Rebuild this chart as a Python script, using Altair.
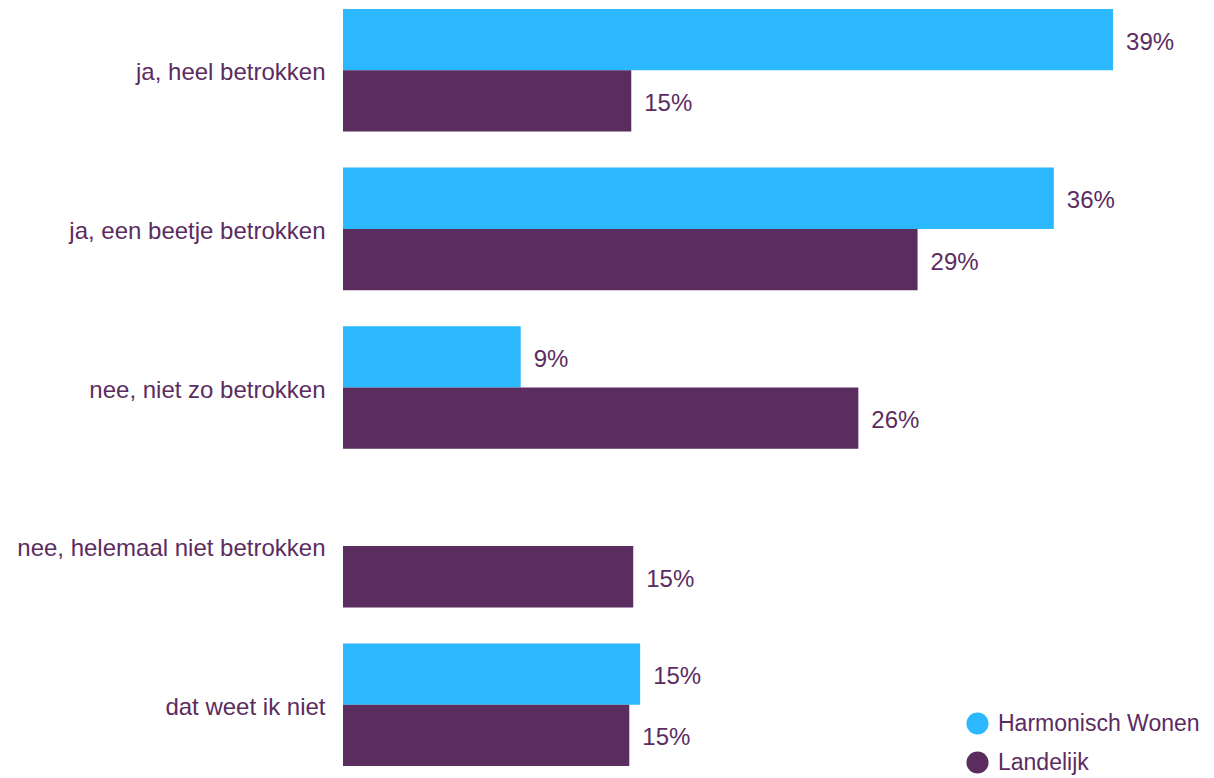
import altair as alt
import pandas as pd

categories = [
    "ja, heel betrokken",
    "ja, een beetje betrokken",
    "nee, niet zo betrokken",
    "nee, helemaal niet betrokken",
    "dat weet ik niet",
]
series = ["Harmonisch Wonen", "Landelijk"]
harmonisch = [39.0, 36.0, 9.0, None, 15.05]
landelijk = [14.6, 29.1, 26.1, 14.7, 14.5]
harmonisch_labels = ["39%", "36%", "9%", "", "15%"]
landelijk_labels = ["15%", "29%", "26%", "15%", "15%"]

rows = []
for c, v, l in zip(categories, harmonisch, harmonisch_labels):
    if v is not None:
        rows.append({"cat": c, "serie": series[0], "val": v, "lab": l})
for c, v, l in zip(categories, landelijk, landelijk_labels):
    if v is not None:
        rows.append({"cat": c, "serie": series[1], "val": v, "lab": l})
df = pd.DataFrame(rows)

BLUE = "#2CB8FF"
PURPLE = "#5A2D5E"
TXT = "#5B2C5F"
FONT = "Liberation Sans"
FS = 24

y = alt.Y("cat:N", sort=categories, title=None,
          scale=alt.Scale(paddingInner=0.227, paddingOuter=0),
          axis=alt.Axis(labelFontSize=FS, labelColor=TXT, labelFont=FONT,
                        labelPadding=18, labelOffset=3, ticks=False,
                        domain=False, grid=False, labelLimit=400))
yoff = alt.YOffset("serie:N", scale=alt.Scale(domain=series, paddingInner=0, paddingOuter=0))
x = alt.X("val:Q", title=None, scale=alt.Scale(domain=[0, 43.05], nice=False),
          axis=None)

bars = alt.Chart(df).mark_bar().encode(
    x=x, y=y, yOffset=yoff,
    color=alt.Color("serie:N", scale=alt.Scale(domain=series, range=[BLUE, PURPLE]),
                    title=None,
                    legend=alt.Legend(orient="none", legendX=623, legendY=703,
                                      symbolType="circle", symbolSize=490,
                                      symbolStrokeWidth=0, labelFontSize=23,
                                      labelColor=TXT, labelFont=FONT,
                                      labelOffset=9, rowPadding=15,
                                      labelLimit=400, padding=0)),
)

text = alt.Chart(df).mark_text(align="left", baseline="middle", dx=13, dy=3,
                                fontSize=FS, color=TXT, font=FONT).encode(
    x=x, y=y, yOffset=yoff, text="lab:N"
)

chart = (bars + text).properties(
    width=850, height=757,
    background="white",
    padding={"left": 335, "top": 1, "right": 13, "bottom": 12},
    autosize=alt.AutoSizeParams(type="none"),
).configure_view(strokeWidth=0, stroke=None)

chart.save("out.html", embed_options={"renderer": "svg", "actions": False})
